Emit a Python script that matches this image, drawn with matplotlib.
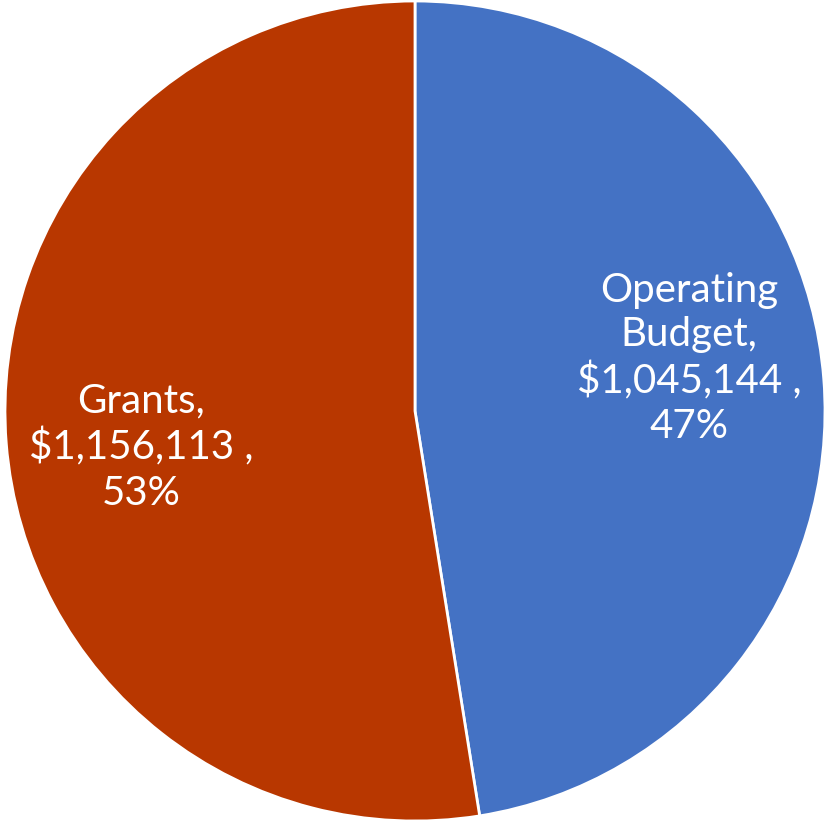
import numpy as np
import matplotlib
matplotlib.use("Agg")
import matplotlib.pyplot as plt

# slice data, clockwise from 12 o'clock
categories = ["Operating\nBudget", "Grants"]
amounts = [1045144, 1156113]
colors = ["#4472C4", "#B83700"]
label_nudge_y = [0.075, -0.035]   # small vertical shift of the data labels

total = sum(amounts)

fig = plt.figure(figsize=(8.28, 8.23), dpi=100)
# pie centre ~ (415, 411) px, radius ~410 px
W, H = 828, 823
cx, cy, r = 415, 411, 410
ax = fig.add_axes([(cx - r) / W, (H - cy - r) / H, 2 * r / W, 2 * r / H])

wedges, _ = ax.pie(amounts, colors=colors, startangle=90, counterclock=False,
                   radius=1.0, wedgeprops=dict(edgecolor="white", linewidth=2))

for w, cat, amt, dy in zip(wedges, categories, amounts, label_nudge_y):
    mid = np.deg2rad((w.theta1 + w.theta2) / 2)
    pct = round(100 * amt / total)
    txt = f"{cat},\n${amt:,} ,\n{pct}%"
    d = 0.67
    ax.text(d * np.cos(mid), d * np.sin(mid) + dy, txt, ha="center", va="center",
            color="white", fontsize=29, family="Lato", linespacing=1.26)

ax.set_xlim(-1, 1)
ax.set_ylim(-1, 1)
ax.set_aspect("equal")
ax.axis("off")

fig.savefig("out.png", dpi=100)
